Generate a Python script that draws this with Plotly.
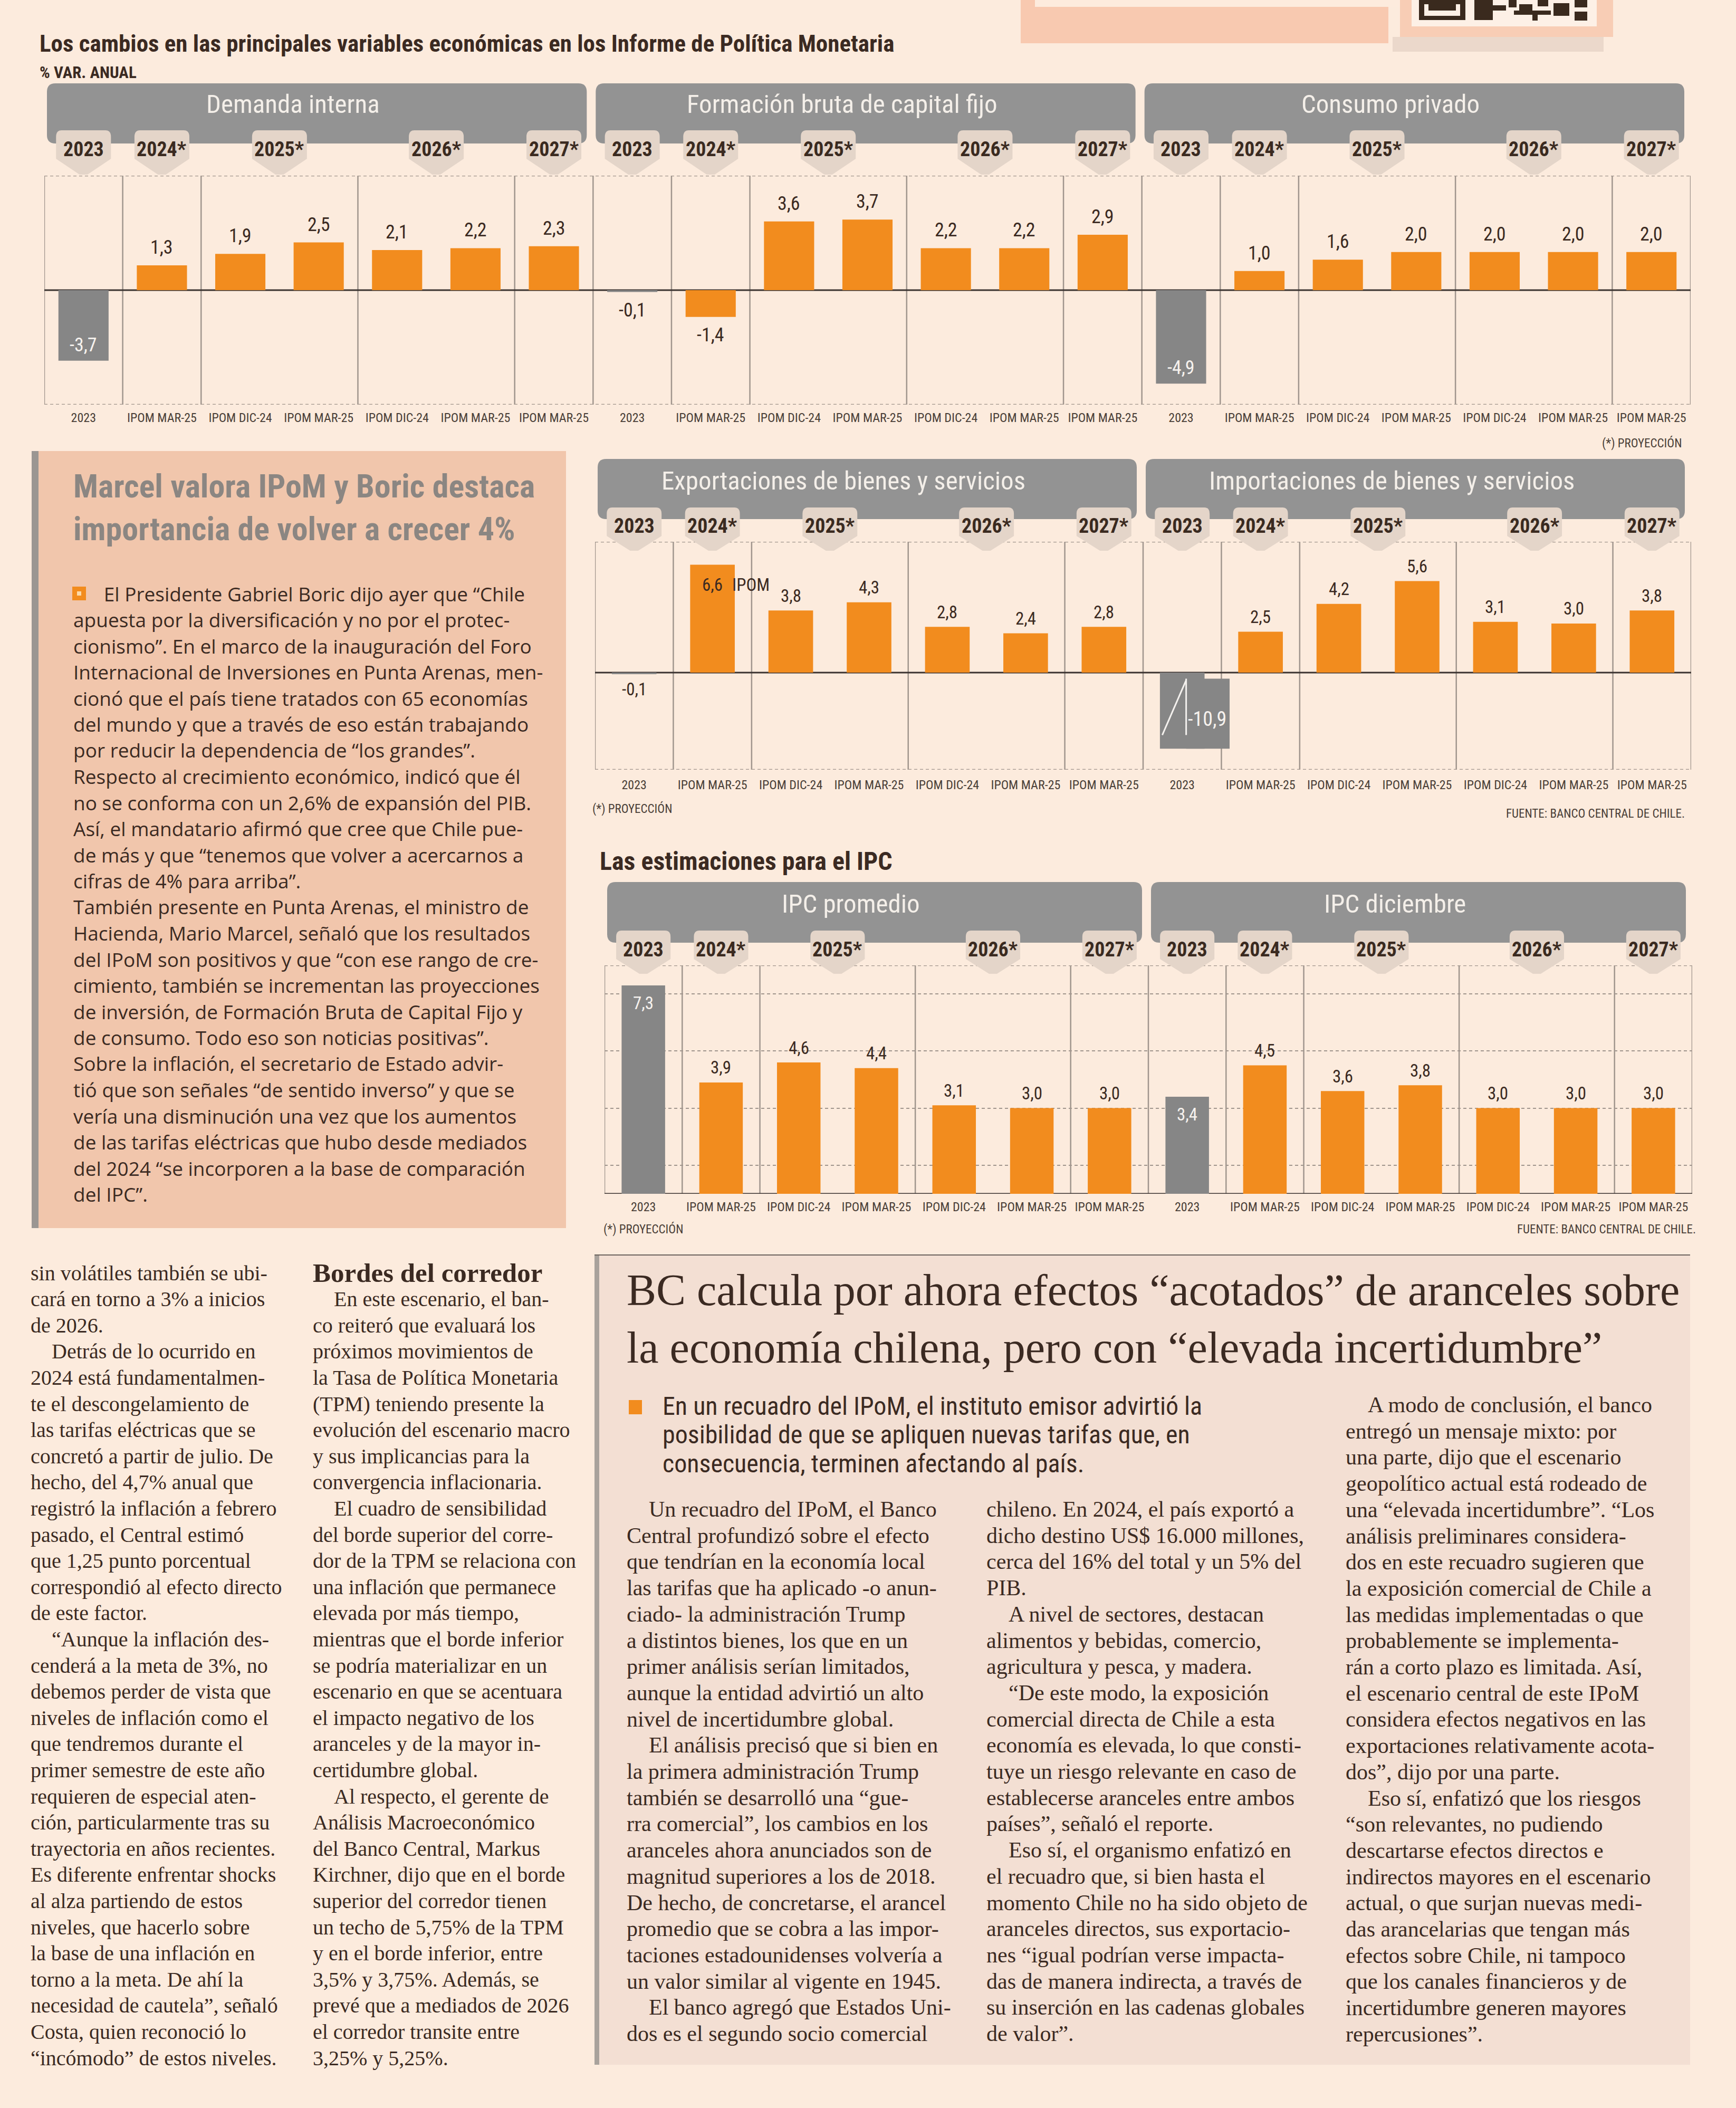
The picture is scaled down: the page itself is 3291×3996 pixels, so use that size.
import plotly.graph_objects as go

W, H = 3291, 3996


def X(p):
    return p / W


def Y(p):
    return 1 - p / H


# ---------------------------------------------------------------- data
categories = ["2023", "IPOM MAR-25", "IPOM DIC-24", "IPOM MAR-25",
              "IPOM DIC-24", "IPOM MAR-25", "IPOM MAR-25"]
year_labels = ["2023", "2024*", "2025*", "2026*", "2027*"]
year_of_category = [0, 1, 2, 2, 3, 3, 4]

demanda_interna = [-3.7, 1.3, 1.9, 2.5, 2.1, 2.2, 2.3]
formacion_bruta = [-0.1, -1.4, 3.6, 3.7, 2.2, 2.2, 2.9]
consumo_privado = [-4.9, 1.0, 1.6, 2.0, 2.0, 2.0, 2.0]
exportaciones = [-0.1, 6.6, 3.8, 4.3, 2.8, 2.4, 2.8]
importaciones = [-10.9, 2.5, 4.2, 5.6, 3.1, 3.0, 3.8]
ipc_promedio = [7.3, 3.9, 4.6, 4.4, 3.1, 3.0, 3.0]
ipc_diciembre = [3.4, 4.5, 3.6, 3.8, 3.0, 3.0, 3.0]

main_title = "Los cambios en las principales variables económicas en los Informe de Política Monetaria"
unit_label = "% VAR. ANUAL"
ipc_title = "Las estimaciones para el IPC"
note_text = "(*) PROYECCIÓN"
source_text = "FUENTE: BANCO CENTRAL DE CHILE."

NB = "\u00a0\u00a0\u00a0\u00a0"

box_headline = ["Marcel valora IPoM y Boric destaca",
                "importancia de volver a crecer 4%"]
box_body = [
    NB + "\u00a0\u00a0El Presidente Gabriel Boric dijo ayer que “Chile",
    "apuesta por la diversificación y no por el protec-",
    "cionismo”. En el marco de la inauguración del Foro",
    "Internacional de Inversiones en Punta Arenas, men-",
    "cionó que el país tiene tratados con 65 economías",
    "del mundo y que a través de eso están trabajando",
    "por reducir la dependencia de “los grandes”.",
    "Respecto al crecimiento económico, indicó que él",
    "no se conforma con un 2,6% de expansión del PIB.",
    "Así, el mandatario afirmó que cree que Chile pue-",
    "de más y que “tenemos que volver a acercarnos a",
    "cifras de 4% para arriba”.",
    "También presente en Punta Arenas, el ministro de",
    "Hacienda, Mario Marcel, señaló que los resultados",
    "del IPoM son positivos y que “con ese rango de cre-",
    "cimiento, también se incrementan las proyecciones",
    "de inversión, de Formación Bruta de Capital Fijo y",
    "de consumo. Todo eso son noticias positivas”.",
    "Sobre la inflación, el secretario de Estado advir-",
    "tió que son señales “de sentido inverso” y que se",
    "vería una disminución una vez que los aumentos",
    "de las tarifas eléctricas que hubo desde mediados",
    "del 2024 “se incorporen a la base de comparación",
    "del IPC”.",
]

left_col1 = [
    "sin volátiles también se ubi-",
    "cará en torno a 3% a inicios",
    "de 2026.",
    NB + "Detrás de lo ocurrido en",
    "2024 está fundamentalmen-",
    "te el descongelamiento de",
    "las tarifas eléctricas que se",
    "concretó a partir de julio. De",
    "hecho, del 4,7% anual que",
    "registró la inflación a febrero",
    "pasado, el Central estimó",
    "que 1,25 punto porcentual",
    "correspondió al efecto directo",
    "de este factor.",
    NB + "“Aunque la inflación des-",
    "cenderá a la meta de 3%, no",
    "debemos perder de vista que",
    "niveles de inflación como el",
    "que tendremos durante el",
    "primer semestre de este año",
    "requieren de especial aten-",
    "ción, particularmente tras su",
    "trayectoria en años recientes.",
    "Es diferente enfrentar shocks",
    "al alza partiendo de estos",
    "niveles, que hacerlo sobre",
    "la base de una inflación en",
    "torno a la meta. De ahí la",
    "necesidad de cautela”, señaló",
    "Costa, quien reconoció lo",
    "“incómodo” de estos niveles.",
]
left_col2_heading = "Bordes del corredor"
left_col2 = [
    NB + "En este escenario, el ban-",
    "co reiteró que evaluará los",
    "próximos movimientos de",
    "la Tasa de Política Monetaria",
    "(TPM) teniendo presente la",
    "evolución del escenario macro",
    "y sus implicancias para la",
    "convergencia inflacionaria.",
    NB + "El cuadro de sensibilidad",
    "del borde superior del corre-",
    "dor de la TPM se relaciona con",
    "una inflación que permanece",
    "elevada por más tiempo,",
    "mientras que el borde inferior",
    "se podría materializar en un",
    "escenario en que se acentuara",
    "el impacto negativo de los",
    "aranceles y de la mayor in-",
    "certidumbre global.",
    NB + "Al respecto, el gerente de",
    "Análisis Macroeconómico",
    "del Banco Central, Markus",
    "Kirchner, dijo que en el borde",
    "superior del corredor tienen",
    "un techo de 5,75% de la TPM",
    "y en el borde inferior, entre",
    "3,5% y 3,75%. Además, se",
    "prevé que a mediados de 2026",
    "el corredor transite entre",
    "3,25% y 5,25%.",
]

article_headline = ["BC calcula por ahora efectos “acotados” de aranceles sobre",
                    "la economía chilena, pero con “elevada incertidumbre”"]
article_lead = ["En un recuadro del IPoM, el instituto emisor advirtió la",
                "posibilidad de que se apliquen nuevas tarifas que, en",
                "consecuencia, terminen afectando al país."]
article_col1 = [
    NB + "Un recuadro del IPoM, el Banco",
    "Central profundizó sobre el efecto",
    "que tendrían en la economía local",
    "las tarifas que ha aplicado -o anun-",
    "ciado- la administración Trump",
    "a distintos bienes, los que en un",
    "primer análisis serían limitados,",
    "aunque la entidad advirtió un alto",
    "nivel de incertidumbre global.",
    NB + "El análisis precisó que si bien en",
    "la primera administración Trump",
    "también se desarrolló una “gue-",
    "rra comercial”, los cambios en los",
    "aranceles ahora anunciados son de",
    "magnitud superiores a los de 2018.",
    "De hecho, de concretarse, el arancel",
    "promedio que se cobra a las impor-",
    "taciones estadounidenses volvería a",
    "un valor similar al vigente en 1945.",
    NB + "El banco agregó que Estados Uni-",
    "dos es el segundo socio comercial",
]
article_col2 = [
    "chileno. En 2024, el país exportó a",
    "dicho destino US$ 16.000 millones,",
    "cerca del 16% del total y un 5% del",
    "PIB.",
    NB + "A nivel de sectores, destacan",
    "alimentos y bebidas, comercio,",
    "agricultura y pesca, y madera.",
    NB + "“De este modo, la exposición",
    "comercial directa de Chile a esta",
    "economía es elevada, lo que consti-",
    "tuye un riesgo relevante en caso de",
    "establecerse aranceles entre ambos",
    "países”, señaló el reporte.",
    NB + "Eso sí, el organismo enfatizó en",
    "el recuadro que, si bien hasta el",
    "momento Chile no ha sido objeto de",
    "aranceles directos, sus exportacio-",
    "nes “igual podrían verse impacta-",
    "das de manera indirecta, a través de",
    "su inserción en las cadenas globales",
    "de valor”.",
]
article_col3 = [
    NB + "A modo de conclusión, el banco",
    "entregó un mensaje mixto: por",
    "una parte, dijo que el escenario",
    "geopolítico actual está rodeado de",
    "una “elevada incertidumbre”. “Los",
    "análisis preliminares considera-",
    "dos en este recuadro sugieren que",
    "la exposición comercial de Chile a",
    "las medidas implementadas o que",
    "probablemente se implementa-",
    "rán a corto plazo es limitada. Así,",
    "el escenario central de este IPoM",
    "considera efectos negativos en las",
    "exportaciones relativamente acota-",
    "dos”, dijo por una parte.",
    NB + "Eso sí, enfatizó que los riesgos",
    "“son relevantes, no pudiendo",
    "descartarse efectos directos e",
    "indirectos mayores en el escenario",
    "actual, o que surjan nuevas medi-",
    "das arancelarias que tengan más",
    "efectos sobre Chile, ni tampoco",
    "que los canales financieros y de",
    "incertidumbre generen mayores",
    "repercusiones”.",
]

# ---------------------------------------------------------------- style
BG = "#FCEBDD"
ORANGE = "#F28C1E"
GRAY_BAR = "#868686"
HEADER = "#939393"
HEADER_TXT = "#F4EFE9"
BADGE = "#E4D5C9"
DARK = "#3B2A22"
LABEL = "#4A3F38"
SEP = "#A0958D"
COND = "Roboto Condensed, Liberation Sans Narrow, DejaVu Sans Condensed, Arial Narrow, sans-serif"
SANS = "Open Sans, Noto Sans, sans-serif"
SERIF = "Liberation Serif, DejaVu Serif, serif"

shapes, annotations = [], []
layout = {}


def fmt(v):
    return f"{v:.1f}".replace(".", ",")


def rect(x0, y0, x1, y1, fill, layer="below"):
    shapes.append(dict(type="rect", xref="paper", yref="paper",
                       x0=X(x0), x1=X(x1), y0=Y(y1), y1=Y(y0),
                       fillcolor=fill, line=dict(width=0), layer=layer))


def rounded_rect(x0, y0, x1, y1, r, fill, layer="below"):
    a, b = X(x0), X(x1)
    top, bot = Y(y0), Y(y1)
    rx, ry = r / W, r / H
    path = (f"M {a+rx},{top} L {b-rx},{top} Q {b},{top} {b},{top-ry} "
            f"L {b},{bot+ry} Q {b},{bot} {b-rx},{bot} L {a+rx},{bot} "
            f"Q {a},{bot} {a},{bot+ry} L {a},{top-ry} Q {a},{top} {a+rx},{top} Z")
    shapes.append(dict(type="path", xref="paper", yref="paper", path=path,
                       fillcolor=fill, line=dict(width=0), layer=layer))


def ptext(x, y, s, size, family, color, weight="normal", anchor="left"):
    annotations.append(dict(xref="paper", yref="paper", x=X(x), y=Y(y), text=s,
                            showarrow=False, xanchor=anchor, yanchor="middle", align="left",
                            font=dict(family=family, size=size, color=color, weight=weight)))


def lines_block(lines, x, y0, dy, size, family, color, weight="normal"):
    for i, t in enumerate(lines):
        ptext(x, y0 + i * dy, t, size, family, color, weight)


# ---------------------------------------------------------------- top-right decoration
rect(1935, 0, 2632, 82, "#F8C9B0")
rect(1962, 0, 2659, 13, "#FDEBDD")
rect(2640, 70, 3040, 98, "#EBD8CB")
rect(2654, 0, 3058, 70, "#F8CDB5")
rect(2676, 0, 3027, 50, "#FDF0E6")
for (a, b, c, d) in [(2690, 0, 2778, 8), (2690, 0, 2700, 38), (2768, 0, 2778, 38), (2690, 30, 2778, 38),
                     (2708, 0, 2760, 20), (2795, 0, 2830, 38), (2830, 10, 2855, 20), (2860, 0, 2875, 14),
                     (2880, 8, 2905, 22), (2870, 20, 2940, 28), (2915, 0, 2935, 12), (2945, 6, 2975, 30),
                     (2985, 0, 3009, 14), (2985, 22, 3009, 39), (2905, 28, 2915, 39)]:
    rect(a, b, c, d, "#3A2A1E")

# ---------------------------------------------------------------- titles
ptext(73, 82, main_title, 45, COND, DARK, "bold")
ptext(73, 138, unit_label, 31, COND, DARK, "bold")
ptext(1135, 1632, ipc_title, 48, COND, DARK, "bold")

# ---------------------------------------------------------------- chart rows
row_specs = [
    dict(panels=[("Demanda interna", demanda_interna),
                 ("Formación bruta de capital fijo", formacion_bruta),
                 ("Consumo privado", consumo_privado)],
         plot_px=(84, 3205, 333, 767), yrange=(-6, 6), bar_w=0.64,
         header_py=(158, 272), badge_py=(247, 301, 331), header_text_py=197,
         badge_text_py=283, standoff=8, lab=36, out=34, inn=30, floor=None,
         bottom="dotted", grid=None),
    dict(panels=[("Exportaciones de bienes y servicios", exportaciones),
                 ("Importaciones de bienes y servicios", importaciones)],
         plot_px=(1128, 3206, 1027, 1459), yrange=(-5.94, 8), bar_w=0.57,
         header_py=(870, 984), badge_py=(962, 1016, 1044), header_text_py=912,
         badge_text_py=997, standoff=12, lab=33, out=28, inn=38, floor=-4.66,
         bottom="dotted", grid=None),
    dict(panels=[("IPC promedio", ipc_promedio), ("IPC diciembre", ipc_diciembre)],
         plot_px=(1146, 3208, 1830, 2263), yrange=(0, 8), bar_w=0.56,
         header_py=(1672, 1787), badge_py=(1764, 1818, 1846), header_text_py=1713,
         badge_text_py=1800, standoff=8, lab=33, out=28, inn=34, floor=None,
         bottom="solid", grid=[1, 3, 5, 7]),
]

n_cat = len(categories)
traces = []
for k, spec in enumerate(row_specs):
    suf = "" if k == 0 else str(k + 1)
    xa, ya = "x" + suf, "y" + suf
    panels = spec["panels"]
    total = n_cat * len(panels)
    x0p, x1p, ytp, ybp = spec["plot_px"]
    ylo, yhi = spec["yrange"]
    layout["xaxis" + suf] = dict(
        domain=[X(x0p), X(x1p)], range=[-0.5, total - 0.5], anchor=ya,
        tickmode="array", tickvals=list(range(total)), ticktext=categories * len(panels),
        showgrid=False, zeroline=False, showline=False, ticks="", fixedrange=True,
        ticklabelstandoff=spec["standoff"],
        tickfont=dict(family=COND, size=24, color=LABEL))
    yax = dict(domain=[Y(ybp), Y(ytp)], range=[ylo, yhi], anchor=xa,
               zeroline=False, showline=False, showticklabels=False, ticks="",
               fixedrange=True, showgrid=False)
    if spec["grid"]:
        yax.update(showgrid=True, tickmode="array", tickvals=spec["grid"],
                   gridcolor=SEP, gridwidth=2, griddash="6px,5px")
    layout["yaxis" + suf] = yax

    # frame lines
    dotted = dict(color=SEP, width=2.5, dash="6px,5px")
    shapes.append(dict(type="line", xref=xa + " domain", yref=ya, x0=0, x1=1,
                       y0=yhi, y1=yhi, line=dotted, layer="below"))
    if spec["bottom"] == "dotted":
        shapes.append(dict(type="line", xref=xa + " domain", yref=ya, x0=0, x1=1,
                           y0=ylo, y1=ylo, line=dotted, layer="below"))

    boundaries = [-0.5]
    for p in range(len(panels)):
        off = p * n_cat
        boundaries += [off + i + 0.5 for i in range(n_cat - 1)
                       if year_of_category[i] != year_of_category[i + 1]]
        boundaries.append(off + n_cat - 0.5)
    for b in boundaries:
        shapes.append(dict(type="line", xref=xa, yref=ya + " domain", x0=b, x1=b,
                           y0=0, y1=1, line=dict(color=SEP, width=2.5), layer="below"))
    shapes.append(dict(type="line", xref=xa + " domain", yref=ya, x0=0, x1=1,
                       y0=0, y1=0, line=dict(color="#3A3330", width=3), layer="below"))

    col_px = (x1p - x0p) / total
    gx, gy, ox, oy = [], [], [], []
    for p, (title, vals) in enumerate(panels):
        off = p * n_cat
        hl = x0p + p * n_cat * col_px + 5
        hr = x0p + (p + 1) * n_cat * col_px - 12
        rounded_rect(hl, spec["header_py"][0], hr, spec["header_py"][1], 16, HEADER)
        ptext((hl + hr) / 2 - 45, spec["header_text_py"], title, 49, COND, HEADER_TXT, "normal", "center")

        # year badges
        bt, bb, btip = spec["badge_py"]
        for g, yl in enumerate(year_labels):
            members = [off + i for i, gg in enumerate(year_of_category) if gg == g]
            xc = sum(members) / len(members)
            hw, rx, ry = 0.35, 0.07, 12 / H
            a, b = xc - hw, xc + hw
            t, m, tip = Y(bt), Y(bb), Y(btip)
            path = (f"M {a},{m} L {a},{t-ry} Q {a},{t} {a+rx},{t} L {b-rx},{t} "
                    f"Q {b},{t} {b},{t-ry} L {b},{m} L {xc+0.05},{tip} L {xc-0.05},{tip} Z")
            shapes.append(dict(type="path", xref=xa, yref="paper", path=path,
                               fillcolor=BADGE, line=dict(width=0), layer="below"))
            annotations.append(dict(xref=xa, yref="paper", x=xc, y=Y(spec["badge_text_py"]),
                                    text=yl, showarrow=False, xanchor="center", yanchor="middle",
                                    font=dict(family=COND, size=38, color="#3A2A20", weight="bold")))

        # bars and value labels
        for i, v in enumerate(vals):
            pos = off + i
            shown = v if spec["floor"] is None else max(v, spec["floor"])
            gray = (year_of_category[i] == 0)
            if gray:
                gx.append(pos)
                gy.append(shown)
            else:
                ox.append(pos)
                oy.append(shown)
            inside = (gray and abs(v) >= 1) or (shown > yhi - 1.5)
            truncated = shown != v
            if inside:
                shift = spec["inn"] if shown < 0 else -spec["inn"]
                color = "#F6F2EE" if gray else DARK
            else:
                shift = spec["out"] if shown >= 0 else -spec["out"]
                color = DARK
            annotations.append(dict(xref=xa, yref=ya, x=pos + (0.06 if truncated else 0),
                                    y=shown, yshift=shift + (18 if truncated else 0),
                                    text=fmt(v), showarrow=False,
                                    xanchor="left" if truncated else "center",
                                    yanchor="middle",
                                    font=dict(family=COND, size=spec["lab"] + (5 if truncated else 0),
                                              color=color)))
            if inside and not gray:
                annotations.append(dict(xref=xa, yref=ya, x=pos + 0.24, y=shown, yshift=shift,
                                        text="IPOM", showarrow=False, xanchor="left",
                                        yanchor="middle",
                                        font=dict(family=COND, size=spec["lab"], color=DARK)))
            if truncated:
                # axis-break mark on the truncated bar
                bw = spec["bar_w"]
                shapes.append(dict(type="rect", xref=xa, yref=ya,
                                   x0=pos + 0.05, x1=pos + bw / 2 + 0.32,
                                   y0=shown, y1=shown * 0.08,
                                   fillcolor=GRAY_BAR, line=dict(width=0), layer="above"))
                shapes.append(dict(type="line", xref=xa, yref=ya,
                                   x0=pos - bw / 2 + 0.03, y0=shown * 0.82,
                                   x1=pos + 0.05, y1=shown * 0.1,
                                   line=dict(color="#F4F1EE", width=3), layer="above"))
                shapes.append(dict(type="line", xref=xa, yref=ya,
                                   x0=pos + 0.05, y0=shown * 0.08, x1=pos + 0.05, y1=shown * 0.82,
                                   line=dict(color="#F4F1EE", width=3), layer="above"))

    traces.append(go.Bar(x=ox, y=oy, xaxis=xa, yaxis=ya, width=spec["bar_w"],
                         marker=dict(color=ORANGE, line=dict(width=0)), hoverinfo="skip"))
    traces.append(go.Bar(x=gx, y=gy, xaxis=xa, yaxis=ya, width=spec["bar_w"],
                         marker=dict(color=GRAY_BAR, line=dict(width=0)), hoverinfo="skip"))

# footnotes
ptext(3190, 840, note_text, 23, COND, LABEL, anchor="right")
ptext(1121, 1533, note_text, 23, COND, LABEL)
ptext(3196, 1542, source_text, 23, COND, LABEL, anchor="right")
ptext(1142, 2330, note_text, 23, COND, LABEL)
ptext(3217, 2330, source_text, 23, COND, LABEL, anchor="right")

# ---------------------------------------------------------------- left box
rect(60, 855, 1073, 2328, "#F1C6AC")
rect(60, 855, 73, 2328, "#9B9692")
ptext(137, 962, "<br>".join(box_headline), 62, COND, "#8B8682", "bold")
rect(137, 1112, 163, 1138, ORANGE)
rect(146, 1121, 154, 1129, "#FBD9A8")
lines_block(box_body, 137, 1125, 49.5, 37, SANS, DARK)

# ---------------------------------------------------------------- bottom-left columns
lines_block(left_col1, 56, 2413, 49.6, 40, SERIF, DARK)
ptext(591, 2413, left_col2_heading, 51, SERIF, DARK, "bold")
lines_block(left_col2, 591, 2462.6, 49.6, 40, SERIF, DARK)

# ---------------------------------------------------------------- right article
rect(1127, 2379, 3204, 3914, "#F3DFD3")
rect(1127, 2379, 1136, 3914, "#A9A29C")
shapes.append(dict(type="line", xref="paper", yref="paper", x0=X(1127), x1=X(3204),
                   y0=Y(2379), y1=Y(2379), line=dict(color="#6B625C", width=2), layer="below"))
ptext(1186, 2500, "<br>".join(article_headline), 84, SERIF, DARK)
rect(1192, 2654, 1217, 2681, ORANGE)
lines_block(article_lead, 1254, 2665, 54.5, 48, COND, DARK)
lines_block(article_col1, 1186, 2861, 49.7, 42, SERIF, DARK)
lines_block(article_col2, 1868, 2861, 49.7, 42, SERIF, DARK)
lines_block(article_col3, 2549, 2663, 49.7, 42, SERIF, DARK)

fig = go.Figure(data=traces)
fig.update_layout(
    width=W, height=H, margin=dict(l=0, r=0, t=0, b=0),
    paper_bgcolor=BG, plot_bgcolor="rgba(0,0,0,0)",
    showlegend=False, barmode="overlay",
    shapes=shapes, annotations=annotations, **layout)
fig.write_html("out.html", config={"displayModeBar": False},
               post_script="document.body.style.margin='0';")
